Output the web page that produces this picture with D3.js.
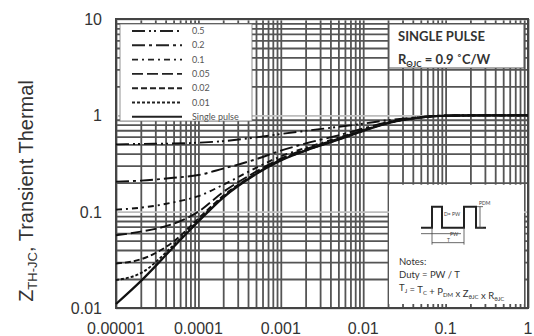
<!DOCTYPE html>
<html>
<head>
<meta charset="utf-8">
<script src="https://cdn.jsdelivr.net/npm/d3@7"></script>
<style>
  html, body { margin: 0; padding: 0; background: #fff; }
  svg { display: block; }
</style>
</head>
<body>
<svg id="zthChart"></svg>
<script>
// pulse width in seconds
const pulseTimes = [1e-5, 2e-5, 5e-5, 1e-4, 2e-4, 5e-4, 1e-3, 2e-3, 5e-3, 1e-2, 2e-2, 5e-2, 0.1, 0.3, 1];

// Zth-jc readings per duty cycle
const duty05 = [0.50, 0.505, 0.51, 0.52, 0.54, 0.59, 0.64, 0.69, 0.76, 0.82, 0.89, 0.96, 0.995, 1.0, 1.0];
const duty02 = [0.205, 0.21, 0.225, 0.24, 0.28, 0.35, 0.43, 0.51, 0.62, 0.73, 0.85, 0.96, 0.995, 1.0, 1.0];
const duty01 = [0.105, 0.11, 0.125, 0.145, 0.19, 0.285, 0.375, 0.46, 0.585, 0.71, 0.84, 0.955, 0.99, 1.0, 1.0];
const duty005 = [0.057, 0.062, 0.075, 0.1, 0.16, 0.26, 0.355, 0.445, 0.572, 0.70, 0.837, 0.953, 0.99, 1.0, 1.0];
const duty002 = [0.029, 0.032, 0.049, 0.085, 0.146, 0.25, 0.345, 0.435, 0.565, 0.695, 0.834, 0.952, 0.99, 1.0, 1.0];
const duty001 = [0.0195, 0.023, 0.045, 0.081, 0.142, 0.247, 0.342, 0.432, 0.562, 0.692, 0.832, 0.95, 0.99, 1.0, 1.0];
const singlePulse = [0.011, 0.019, 0.043, 0.079, 0.14, 0.245, 0.34, 0.43, 0.56, 0.69, 0.83, 0.95, 0.99, 1.0, 1.0];

const seriesNames = ["0.5", "0.2", "0.1", "0.05", "0.02", "0.01", "Single pulse"];
const seriesValues = [duty05, duty02, duty01, duty005, duty002, duty001, singlePulse];
const seriesDash = ["13,4,2,3,2,4", "13,4,3,4", "6,4,2,4", "11,4", "6,3", "3,2", null];

const xTickLabels = ["0.00001", "0.0001", "0.001", "0.01", "0.1", "1"];
const yTickLabels = ["0.01", "0.1", "1", "10"];

document.addEventListener("DOMContentLoaded", () => {
  const W = 534, H = 336;
  const margin = { top: 19, right: 6, bottom: 28, left: 116 };
  const width = W - margin.left - margin.right;
  const height = H - margin.top - margin.bottom;

  const svg = d3.select("#zthChart").attr("width", W).attr("height", H);
  const g = svg.append("g").attr("transform", `translate(${margin.left},${margin.top})`);

  const xScale = d3.scaleLog().domain([1e-5, 1]).range([0, width]);
  const yScale = d3.scaleLog().domain([0.01, 10]).range([height, 0]);

  const isDecade = (d) => Math.abs(Math.log10(d) - Math.round(Math.log10(d))) < 1e-6;

  // grid, every 1..9 step of each decade
  const gridColor = "#555";
  g.append("g")
    .call(d3.axisBottom(xScale).tickValues(xScale.ticks()).tickSize(height).tickFormat(""))
    .call((a) => a.select(".domain").remove())
    .selectAll("line")
    .attr("stroke", gridColor)
    .attr("stroke-width", 1.8);

  g.append("g")
    .call(d3.axisLeft(yScale).tickValues(yScale.ticks()).tickSize(-width).tickFormat(""))
    .call((a) => a.select(".domain").remove())
    .selectAll("line")
    .attr("stroke", (d) => isDecade(d) ? "#bdbdbd" : gridColor)
    .attr("stroke-width", 1.8);

  g.append("rect")
    .attr("width", width).attr("height", height)
    .attr("fill", "none").attr("stroke", "#444").attr("stroke-width", 2);

  // curves
  const line = d3.line()
    .x((d) => xScale(d[0]))
    .y((d) => yScale(d[1]))
    .curve(d3.curveMonotoneX);

  seriesValues.forEach((vals, i) => {
    const pts = pulseTimes.map((t, j) => [t, vals[j]]);
    g.append("path")
      .datum(pts)
      .attr("fill", "none")
      .attr("stroke", "#111")
      .attr("stroke-width", i === 6 ? 2.2 : 1.9)
      .attr("stroke-dasharray", seriesDash[i])
      .attr("d", line);
  });

  // legend box
  const legend = g.append("g").attr("transform", "translate(4,5)");
  legend.append("rect")
    .attr("width", 132).attr("height", 97)
    .attr("fill", "#fff").attr("stroke", "#777").attr("stroke-width", 0.8);
  seriesNames.forEach((name, i) => {
    const yy = 7 + i * 14.3;
    legend.append("line")
      .attr("x1", 12).attr("x2", 62).attr("y1", yy).attr("y2", yy)
      .attr("stroke", "#222").attr("stroke-width", 1.9)
      .attr("stroke-dasharray", seriesDash[i]);
    legend.append("text")
      .attr("x", 72).attr("y", yy + 3)
      .attr("font-family", "Lato, 'Open Sans', sans-serif")
      .attr("font-size", 9)
      .attr("fill", "#555")
      .text(name);
  });

  // title box
  const tx = xScale(0.02) + 1;
  const title = g.append("g").attr("transform", `translate(${tx},5)`);
  title.append("rect")
    .attr("width", width - tx - 4).attr("height", 44)
    .attr("fill", "#fff").attr("stroke", "#555").attr("stroke-width", 1);
  title.append("text")
    .attr("x", 9).attr("y", 17)
    .attr("font-family", "Lato, sans-serif").attr("font-weight", "bold")
    .attr("font-size", 13).attr("fill", "#333")
    .text("SINGLE PULSE");
  const rt = title.append("text")
    .attr("x", 9).attr("y", 40)
    .attr("font-family", "Lato, sans-serif").attr("font-weight", "bold")
    .attr("font-size", 13).attr("fill", "#333");
  rt.append("tspan").text("R");
  rt.append("tspan").attr("font-size", 8).attr("dy", 3).text("ΘJC");
  rt.append("tspan").attr("dy", -3).text(" = 0.9 ˚C/W");

  // notes box
  const notesTop = yScale(0.2) + 2;
  const notes = g.append("g").attr("transform", `translate(${tx},${notesTop})`);
  notes.append("rect")
    .attr("width", width - tx - 4).attr("height", height - notesTop - 4)
    .attr("fill", "#fff").attr("stroke", "none");

  // pulse sketch
  const px = 32, py = 43, ph = 21;
  notes.append("path")
    .attr("d", `M${px},${py}H${px + 11}V${py - ph}H${px + 21}V${py}H${px + 43}V${py - ph}H${px + 55}V${py}H${px + 65}`)
    .attr("fill", "none").attr("stroke", "#222").attr("stroke-width", 2);
  notes.append("path")
    .attr("d", `M${px + 59},${py - ph}V${py} M${px + 56},${py - ph}H${px + 62} M${px + 56},${py}H${px + 62}`)
    .attr("stroke", "#444").attr("stroke-width", 0.8);
  notes.append("path")
    .attr("d", `M${px + 11},${py}V${py + 17} M${px + 43},${py}V${py + 17} M${px},${py + 6}H${px + 40} M${px + 11},${py + 15}H${px + 43}`)
    .attr("stroke", "#444").attr("stroke-width", 0.8);
  const tiny = (x, y, s, fs) => notes.append("text")
    .attr("x", x).attr("y", y)
    .attr("font-family", "Lato, sans-serif").attr("font-size", fs || 5)
    .attr("fill", "#444").text(s);
  tiny(px + 23, py - 12, "D= PW");
  tiny(px + 29, py + 8, "PW");
  tiny(px + 26, py + 14, "T");
  tiny(px + 58, py - ph - 2, "PDM");

  const noteFont = "Lato, 'Open Sans', sans-serif";
  notes.append("text").attr("x", 10).attr("y", 80)
    .attr("font-family", noteFont).attr("font-size", 9.5).attr("fill", "#333")
    .text("Notes:");
  notes.append("text").attr("x", 10).attr("y", 93)
    .attr("font-family", noteFont).attr("font-size", 9.5).attr("fill", "#333")
    .text("Duty = PW / T");
  const tj = notes.append("text").attr("x", 10).attr("y", 106)
    .attr("font-family", noteFont).attr("font-size", 9.5).attr("fill", "#333");
  [["T", "J"], [" = T", "C"], [" + P", "DM"], [" x Z", "θJC"], [" x R", "θJC"]].forEach(([a, b]) => {
    tj.append("tspan").text(a);
    tj.append("tspan").attr("font-size", 6).attr("dy", 2).text(b);
    tj.append("tspan").attr("dy", -2).text("");
  });

  // axis labels
  const labelFont = "'Liberation Sans', Arial, sans-serif";
  g.selectAll(".xlab")
    .data(xTickLabels)
    .enter()
    .append("text")
    .attr("x", (d) => xScale(+d))
    .attr("y", height + 26)
    .attr("text-anchor", "middle")
    .attr("font-family", labelFont).attr("font-size", 16).attr("fill", "#333")
    .text((d) => d);

  g.selectAll(".ylab")
    .data(yTickLabels)
    .enter()
    .append("text")
    .attr("x", -14)
    .attr("y", (d) => yScale(+d) + 6)
    .attr("text-anchor", "end")
    .attr("font-family", labelFont).attr("font-size", 16).attr("fill", "#333")
    .text((d) => d);

  const yTitle = svg.append("text")
    .attr("transform", "translate(33,191) rotate(-90)")
    .attr("text-anchor", "middle")
    .attr("font-family", labelFont).attr("font-size", 20).attr("fill", "#333");
  yTitle.append("tspan").text("Z");
  yTitle.append("tspan").attr("font-size", 13).attr("dy", 4).text("TH-JC");
  yTitle.append("tspan").attr("dy", -4).text(", Transient Thermal");
});
</script>
</body>
</html>
